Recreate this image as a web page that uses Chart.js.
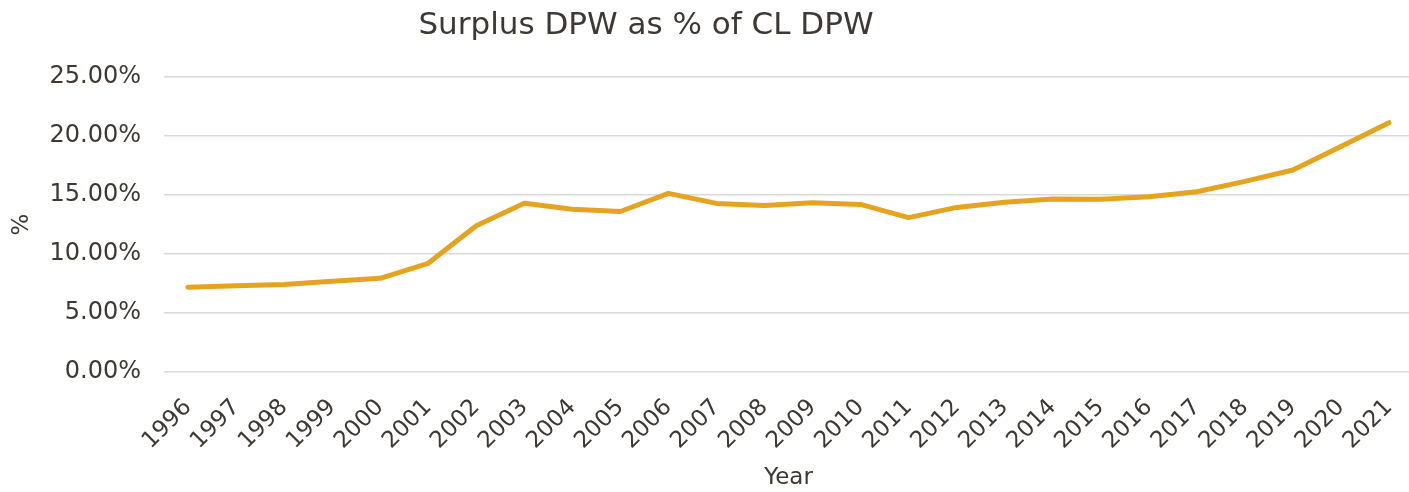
<!DOCTYPE html>
<html>
<head>
<meta charset="utf-8">
<title>Surplus DPW as % of CL DPW</title>
<script src="https://cdn.jsdelivr.net/npm/chart.js@4"></script>
<style>
  html, body { margin: 0; padding: 0; background: #ffffff; overflow: hidden; }
  #myCanvas { display: block; }
</style>
</head>
<body>
<canvas id="myCanvas" width="1416" height="492"></canvas>
<script>
'use strict';

//Data up here at the top
let yearArray = ['1996','1997','1998','1999','2000','2001','2002','2003','2004','2005','2006','2007','2008','2009','2010','2011','2012','2013','2014','2015','2016','2017','2018','2019','2020','2021'];
let surplusPercentArray = [7.18, 7.30, 7.42, 7.70, 7.94, 9.21, 12.40, 14.30, 13.79, 13.60, 15.14, 14.29, 14.10, 14.35, 14.20, 13.08, 13.95, 14.38, 14.66, 14.64, 14.86, 15.28, 16.15, 17.12, 19.10, 21.13];
let yTickMin = 0;
let yTickMax = 25;
let yTickStep = 5;

let chartTitle = 'Surplus DPW as % of CL DPW';
let textColor = '#3d3833';
let lineColor = '#e5a320';
let gridColor = '#d9d9d9';
let fontName = '"DejaVu Sans", Verdana, sans-serif';

const chartInfo = document.getElementById('myCanvas');

//Title is drawn by hand so it can sit left of the plot centre
const titlePlugin = {
  id: 'handTitle',
  afterDraw(chart) {
    const ctx = chart.ctx;
    ctx.save();
    ctx.fillStyle = textColor;
    ctx.font = '31px ' + fontName;
    ctx.textAlign = 'center';
    ctx.textBaseline = 'alphabetic';
    ctx.fillText(chartTitle, 646, 34);
    ctx.restore();
  }
};

function renderChart() {
  const data = {
    labels: yearArray,
    datasets: [{
      label: 'Surplus DPW %',
      data: surplusPercentArray,
      borderColor: lineColor,
      backgroundColor: lineColor,
      borderWidth: 5,
      pointRadius: 0,
      pointHoverRadius: 0,
      borderCapStyle: 'round',
      borderJoinStyle: 'round',
      tension: 0
    }]
  };
  const config = {
    type: 'line',
    data: data,
    options: {
      responsive: false,
      animation: false,
      devicePixelRatio: 1,
      layout: {
        padding: { top: 77, right: 3, left: 0, bottom: 0 }
      },
      plugins: {
        legend: { display: false },
        title: { display: false },
        tooltip: { enabled: false }
      },
      scales: {
        x: {
          offset: true,
          grid: { display: false, drawTicks: false },
          border: { display: false },
          ticks: {
            color: textColor,
            font: { family: fontName, size: 23 },
            maxRotation: 45,
            minRotation: 45,
            autoSkip: false,
            padding: 22
          },
          title: {
            display: true,
            text: 'Year',
            color: textColor,
            font: { family: fontName, size: 23 },
            padding: { top: 0, bottom: 0 }
          },
          afterFit(scale) {
            scale.height = 120;
            scale.paddingRight = 0;
            scale.paddingLeft = 0;
          }
        },
        y: {
          min: yTickMin,
          max: yTickMax,
          grid: { color: gridColor, lineWidth: 1.5, drawTicks: false },
          border: { display: false },
          ticks: {
            stepSize: yTickStep,
            color: textColor,
            font: { family: fontName, size: 24 },
            padding: 23,
            callback: function (value) {
              return value.toFixed(2) + '%';
            }
          },
          title: {
            display: true,
            text: '%',
            color: textColor,
            font: { family: fontName, size: 23 },
            padding: { top: 8, bottom: 0 }
          },
          afterFit(scale) {
            scale.width = 164;
          }
        }
      }
    },
    plugins: [titlePlugin]
  };
  const myChart = new Chart(chartInfo, config);
}

renderChart();
</script>
</body>
</html>
